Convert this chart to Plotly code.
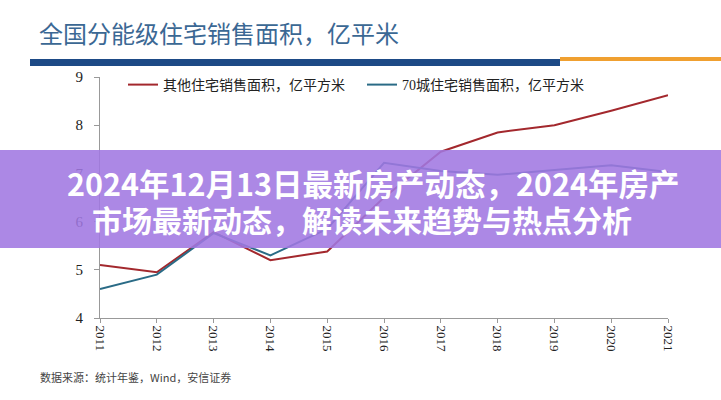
import plotly.graph_objects as go

years = [2011, 2012, 2013, 2014, 2015, 2016, 2017, 2018, 2019, 2020, 2021]
other_area = [5.10, 4.95, 5.78, 5.20, 5.38, 6.50, 7.45, 7.85, 8.00, 8.30, 8.62]
city70_area = [4.60, 4.90, 5.76, 5.30, 5.85, 7.22, 7.05, 6.97, 7.07, 7.17, 7.03]
series_names = ["其他住宅销售面积，亿平方米", "70城住宅销售面积，亿平方米"]
y_ticks = [4, 5, 6, 7, 8, 9]

chart_title = "全国分能级住宅销售面积，亿平米"
source_text = "数据来源：统计年鉴，Wind，安信证券"
banner_line1 = "2024年12月13日最新房产动态，2024年房产"
banner_line2 = "市场最新动态，解读未来趋势与热点分析"

W, H = 721, 400
L, R, T, B = 100, 53, 77, 82
PW, PH = W - L - R, H - T - B


def px(x):
    return (x - L) / PW


def py(y):
    return (H - B - y) / PH


fig = go.Figure()
fig.add_trace(go.Scatter(x=years, y=other_area, mode="lines", name=series_names[0],
                         line=dict(color="#a3282d", width=2), cliponaxis=False))
fig.add_trace(go.Scatter(x=years, y=city70_area, mode="lines", name=series_names[1],
                         line=dict(color="#2a6b86", width=2), cliponaxis=False))

fig.update_layout(
    width=W, height=H,
    margin=dict(l=L, r=R, t=T, b=B),
    paper_bgcolor="white", plot_bgcolor="white",
    showlegend=True,
    legend=dict(orientation="h", x=px(123), y=py(85), xanchor="left", yanchor="middle",
                entrywidth=194, entrywidthmode="pixels",
                font=dict(family="Liberation Serif, Noto Sans CJK SC", size=14, color="#222"),
                bgcolor="rgba(0,0,0,0)", itemwidth=30, tracegroupgap=0),
    xaxis=dict(range=[2011, 2021], tickmode="array", tickvals=years,
               ticktext=[str(y) for y in years], tickangle=90,
               showline=True, linecolor="#999", linewidth=1,
               ticks="outside", ticklen=4, tickcolor="#999",
               showgrid=False, zeroline=False,
               tickfont=dict(family="Liberation Serif", size=13, color="#222")),
    yaxis=dict(range=[4, 9], tickmode="array", tickvals=y_ticks,
               showline=True, linecolor="#999", linewidth=1,
               ticks="outside", ticklen=5, tickcolor="#999", ticklabelstandoff=8,
               showgrid=False, zeroline=False,
               tickfont=dict(family="Liberation Serif", size=15, color="#222")),
)

shapes = [
    dict(type="rect", xref="paper", yref="paper", x0=px(30), x1=px(560), y0=py(66), y1=py(59),
         fillcolor="#1d4a86", line=dict(width=0), layer="above"),
    dict(type="rect", xref="paper", yref="paper", x0=px(560), x1=px(721), y0=py(61), y1=py(57),
         fillcolor="#f0a030", line=dict(width=0), layer="above"),
    dict(type="rect", xref="paper", yref="paper", x0=px(0), x1=px(721), y0=py(248), y1=py(150),
         fillcolor="rgba(160,120,225,0.88)", line=dict(width=0), layer="above"),
]
fig.update_layout(shapes=shapes)

annotations = [
    dict(text=chart_title, xref="paper", yref="paper", x=px(37), y=py(33),
         xanchor="left", yanchor="middle", showarrow=False,
         font=dict(family="Noto Sans CJK SC", size=24, color="#3b6894")),
    dict(text=source_text, xref="paper", yref="paper", x=px(38), y=py(377),
         xanchor="left", yanchor="middle", showarrow=False,
         font=dict(family="Noto Sans CJK SC", size=11, color="#444")),
    dict(text="<b>" + banner_line1 + "</b>", xref="paper", yref="paper", x=px(373), y=py(183),
         xanchor="center", yanchor="middle", showarrow=False,
         font=dict(family="Noto Sans CJK SC", size=30.5, color="white")),
    dict(text="<b>" + banner_line2 + "</b>", xref="paper", yref="paper", x=px(362), y=py(219),
         xanchor="center", yanchor="middle", showarrow=False,
         font=dict(family="Noto Sans CJK SC", size=30, color="white")),
]
fig.update_layout(annotations=annotations)

fig.write_html("out.html", config={"displayModeBar": False},
               post_script="document.body.style.margin='0px';")
